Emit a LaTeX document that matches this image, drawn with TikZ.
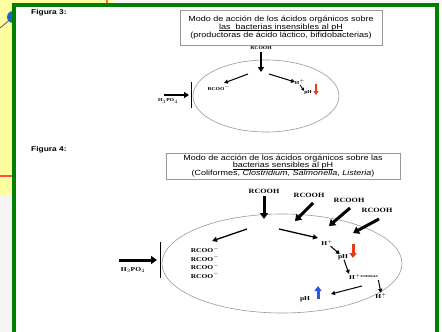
\documentclass[tikz,border=0pt]{standalone}
\usepackage{fontspec}
\setmainfont{Liberation Serif}
\setsansfont{Liberation Sans}
\newfontfamily\boxfont{Liberation Sans}[FakeStretch=1.2]
\newfontfamily\chemfont{Liberation Serif}[FakeStretch=1.25]
\newcommand\myul[1]{\setbox0\hbox{#1}\rlap{\raisebox{-1.4pt}{\rule{\wd0}{0.6pt}}}\box0}
\usetikzlibrary{arrows.meta}
\definecolor{bgyellow}{RGB}{255,255,160}
\definecolor{framegreen}{RGB}{0,128,0}
\definecolor{dotblue}{RGB}{30,100,200}
\definecolor{arrred}{RGB}{230,60,20}
\definecolor{arrblue}{RGB}{40,90,230}
\tikzset{
  titlebox/.style={draw=gray!80, line width=0.8pt, font=\boxfont\fontsize{7.5}{7.8}\selectfont, align=center, inner sep=0pt},
  figlabel/.style={anchor=west, font=\boxfont\bfseries\fontsize{7}{8}\selectfont, inner sep=0pt},
  chem/.style={font=\chemfont\bfseries\fontsize{6.5}{7}\selectfont, inner sep=0pt},
  chemmid/.style={font=\chemfont\bfseries\fontsize{6}{7}\selectfont, inner sep=0pt},
  chemsmall/.style={font=\chemfont\bfseries\fontsize{4.5}{5}\selectfont, inner sep=0pt},
  cell/.style={draw=gray!80, line width=0.6pt},
  bigarrow/.style={line width=3pt, -{Triangle[width=8pt,length=6pt]}},
  medarrow/.style={line width=2.2pt, -{Triangle[width=6pt,length=5pt]}},
  thinarrow/.style={line width=1pt, -{Triangle[width=4pt,length=4pt]}},
  tinyarrow/.style={line width=0.8pt, -{Triangle[width=3pt,length=3pt]}},
  redarrow/.style={draw=arrred, line width=3pt, -{Triangle[width=7pt,length=5pt]}},
  bluearrow/.style={draw=arrblue, line width=3pt, -{Triangle[width=7pt,length=5pt]}},
}
\begin{document}
\begin{tikzpicture}[x=1pt,y=-1pt]
\useasboundingbox (0,0) rectangle (442,332);
% background
\fill[white] (0,0) rectangle (442,332);
\fill[bgyellow] (0,0) rectangle (14,196);
\fill[bgyellow] (0,0) rectangle (113,5);
\fill[gray!6] (113,0) rectangle (442,5);
\fill[gray!8] (0,196) rectangle (14,332);
\draw[red!70, line width=1.2pt] (0,176) -- (14,176);
\draw[red!60, line width=2pt] (107,0) -- (107,4);
\coordinate (lineA) at (0,28);
\coordinate (dot) at (13,17);
\draw[gray!70!black, line width=0.8pt] (lineA) -- (dot);
\fill[dotblue] (dot) circle (6);
% frame
\fill[white] (14,5) rectangle (437,334);
\draw[framegreen, line width=4pt] (14,336) -- (14,5) -- (437,5) -- (437,336);

% ---------- Figura 3 ----------
\node[figlabel] (f3) at (31,13) {Figura 3:};
\node[titlebox, minimum width=202pt, minimum height=35pt] (box3) at (281,27.5)
  {Modo de acción de los ácidos orgánicos sobre\\
   \myul{las\ \ bacterias insensibles al pH}\\
   (productoras de ácido láctico, bifidobacterias)};
\draw[cell] (266,96) ellipse (73 and 36);
\node[chemsmall] (rcooh3) at (261,48) {RCOOH};
\coordinate (a3top) at (261,52);
\coordinate (a3bot) at (261,72);
\draw[medarrow] (a3top) -- (a3bot);
\coordinate (a3l1) at (248,74);
\coordinate (a3l2) at (224,83);
\draw[thinarrow] (a3l1) -- (a3l2);
\coordinate (a3r1) at (269,74);
\coordinate (a3r2) at (295,82);
\draw[thinarrow] (a3r1) -- (a3r2);
\node[chemsmall] (rcoo3) at (219,88) {RCOO$^{-}$};
\node[chemsmall] (hp3) at (300,82) {H$^{+}$};
\node[chemsmall] (ph3) at (308,93) {pH};
\draw[tinyarrow] (hp3.south) -- (ph3.north west);
\coordinate (r3a) at (316,84);
\coordinate (r3b) at (316,95);
\draw[redarrow, line width=2pt, -{Triangle[width=5pt,length=4pt]}] (r3a) -- (r3b);
\node[chemsmall] (h3po4a) at (168,101) {H$_3$PO$_4$};
\coordinate (p3a) at (164,95);
\coordinate (p3b) at (189,95);
\draw[medarrow] (p3a) -- (p3b);
\coordinate (bar3a) at (191,82);
\coordinate (bar3b) at (191,108);
\draw[line width=0.8pt] (bar3a) -- (bar3b);

% ---------- Figura 4 ----------
\node[figlabel] (f4) at (31,150) {Figura 4:};
\node[titlebox, minimum width=234pt, minimum height=26pt] (box4) at (283,166)
  {Modo de acción de los ácidos orgánicos sobre las\\
   \myul{bacterias sensibles al pH}\\
   (Coliformes, \textit{Clostridium}, \textit{Salmonella}, \textit{Listeria})};
\draw[cell] (282,263.5) ellipse (120 and 49.5);
\node[chem] (rc1) at (264,191) {RCOOH};
\node[chem] (rc2) at (309,195) {RCOOH};
\node[chem] (rc3) at (349,200) {RCOOH};
\node[chem] (rc4) at (377,210) {RCOOH};
\coordinate (b1a) at (264,196);
\coordinate (b1b) at (264,219);
\draw[bigarrow] (b1a) -- (b1b);
\coordinate (b2a) at (313,203);
\coordinate (b2b) at (295,221);
\draw[bigarrow] (b2a) -- (b2b);
\coordinate (b3a) at (350,208);
\coordinate (b3b) at (329,226);
\draw[bigarrow] (b3a) -- (b3b);
\coordinate (b4a) at (379,219);
\coordinate (b4b) at (353,233);
\draw[bigarrow] (b4a) -- (b4b);
\coordinate (i1a) at (247,229);
\coordinate (i1b) at (212,241);
\draw[thinarrow, line width=1.3pt, -{Triangle[width=5pt,length=5pt]}] (i1a) -- (i1b);
\coordinate (i2a) at (279,229);
\coordinate (i2b) at (318,238);
\draw[thinarrow, line width=1.3pt, -{Triangle[width=5pt,length=5pt]}] (i2a) -- (i2b);
\node[chemmid] (rco1) at (205,250) {RCOO$^{-}$};
\node[chemmid] (rco2) at (205,258.5) {RCOO$^{-}$};
\node[chemmid] (rco3) at (205,267) {RCOO$^{-}$};
\node[chemmid] (rco4) at (205,275.5) {RCOO$^{-}$};
\node[chemmid] (hp4) at (327,243) {H$^{+}$};
\node[chemmid] (ph4a) at (343,257) {pH};
\draw[thinarrow] (hp4) -- (ph4a);
\coordinate (r4a) at (353,244);
\coordinate (r4b) at (353,258);
\draw[redarrow] (r4a) -- (r4b);
\node[chemmid, anchor=west] (he) at (349,277)
  {H$^{+}$\raisebox{2pt}{\fontsize{3}{3}\selectfont ENERGIA}};
\draw[thinarrow] (ph4a) -- (he.north west);
\node[chemmid] (hp4b) at (381,296) {H$^{+}$};
\draw[thinarrow] (he.south east) -- (hp4b.north);
\coordinate (i3a) at (362,286);
\coordinate (i3b) at (331,294);
\draw[thinarrow] (i3a) -- (i3b);
\node[chemmid] (ph4b) at (305,299) {pH};
\coordinate (u4a) at (318,299);
\coordinate (u4b) at (318,286);
\draw[bluearrow] (u4a) -- (u4b);
\node[chemmid] (h3po4b) at (133,270) {H$_3$PO$_4$};
\coordinate (p4a) at (119,260);
\coordinate (p4b) at (157,260);
\draw[bigarrow] (p4a) -- (p4b);
\coordinate (bar4a) at (160,242);
\coordinate (bar4b) at (160,278);
\draw[line width=1pt] (bar4a) -- (bar4b);
\end{tikzpicture}
\end{document}
